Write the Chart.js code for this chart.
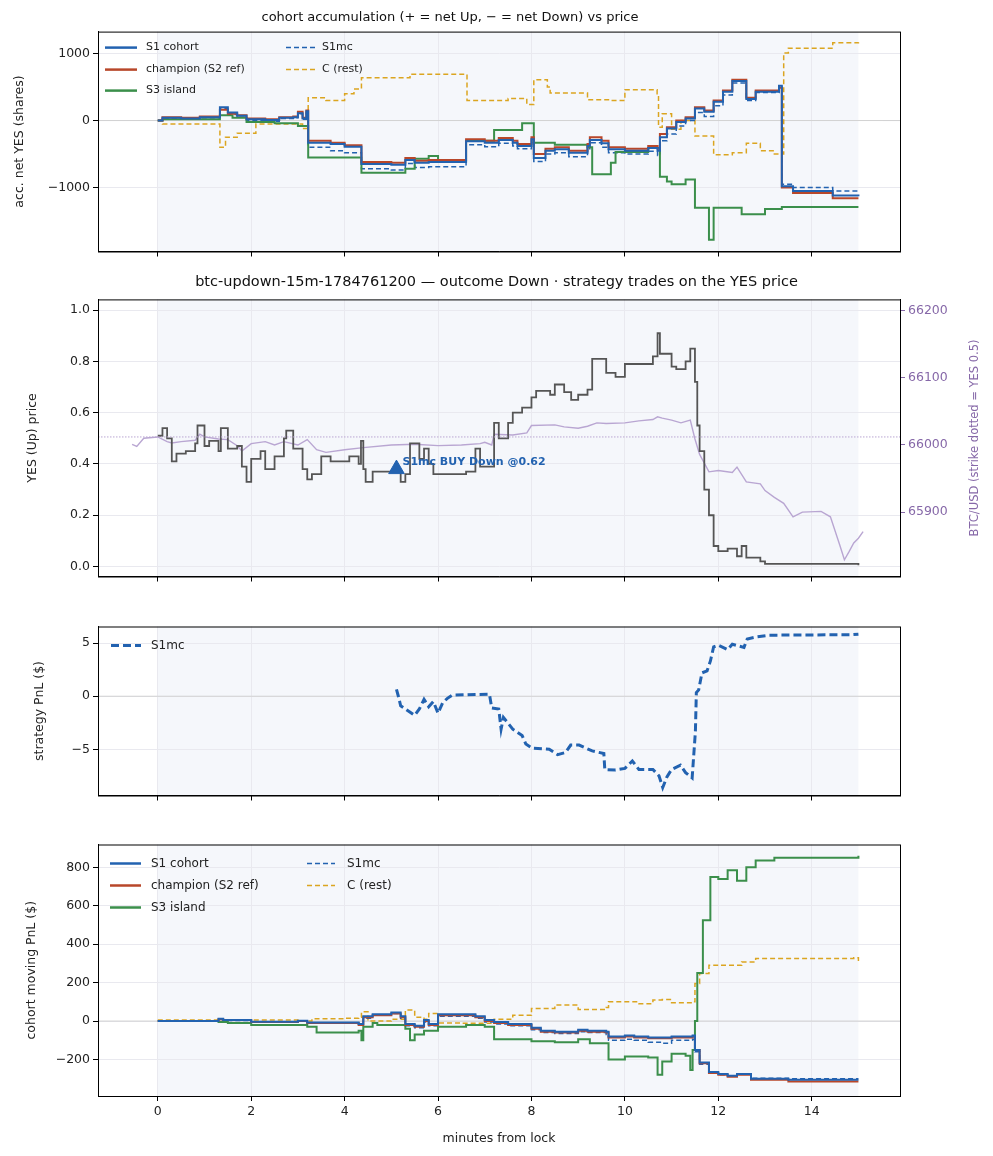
<!DOCTYPE html>
<html>
<head>
<meta charset="utf-8">
<script src="https://cdn.jsdelivr.net/npm/chart.js@4.4.1/dist/chart.umd.min.js"></script>
<style>
  body { margin: 0; background: #fff; }
  canvas { position: absolute; left: 0; }
</style>
</head>
<body>
<canvas id="acc" width="993" height="262" style="top:0"></canvas>
<canvas id="price" width="993" height="325" style="top:262px"></canvas>
<canvas id="pnl" width="993" height="190" style="top:616px"></canvas>
<canvas id="moving" width="993" height="322" style="top:834px"></canvas>
<script>
const X_MIN = -1.28, X_MAX = 15.89 ;
const FONT = 'DejaVu Sans' ;
const BLUE = '#2262b0', RUST = '#b8472a', GREEN = '#3b8f4b', GOLD = '#dba520' ;
const LILAC = '#b9a6d2', PURPLE = '#8668a8', DARK = '#555555' ;

// panel 1: accumulated net YES (shares)
const accT = [0,0.1,0.5,0.9,1.33,1.5,1.7,1.9,2.3,2.6,2.9,3.0,3.1,3.18,3.22,3.7,4.0,4.36,5.0,5.3,5.5,5.8,6.6,7.0,7.3,7.6,7.7,8.0,8.05,8.3,8.5,8.8,9.2,9.25,9.5,9.65,10.0,10.5,10.7,10.75,10.9,11.1,11.3,11.5,11.7,11.9,12.1,12.3,12.6,12.8,13.3,13.36,13.6,14.45,15] ;
const champAcc = [0,50,40,60,160,100,80,30,20,50,60,130,40,150,-300,-330,-370,-620,-630,-560,-600,-590,-280,-300,-260,-300,-350,-250,-500,-420,-400,-450,-350,-250,-300,-400,-420,-380,-420,-200,-100,0,50,200,150,300,450,610,340,450,490,-1000,-1080,-1160,-1160] ;
const s1Acc = [0,40,30,50,200,120,70,20,10,40,50,110,30,140,-330,-350,-390,-650,-660,-590,-630,-620,-310,-330,-290,-330,-380,-280,-560,-450,-430,-480,-380,-290,-340,-430,-450,-410,-450,-250,-120,-20,30,180,130,280,430,590,320,430,520,-980,-1050,-1120,-1130] ;
const s1mcAcc = [0,30,20,40,180,90,50,0,-10,30,40,100,20,120,-400,-450,-480,-720,-740,-640,-700,-690,-360,-390,-340,-380,-420,-330,-610,-500,-480,-540,-420,-330,-400,-480,-500,-460,-520,-300,-200,-80,0,120,60,220,380,560,300,420,510,-950,-1000,-1050,-1050] ;
const s3AccT = [0,0.1,1.33,1.6,1.9,2.5,3.0,3.22,4.36,5.3,5.5,5.8,6.0,6.6,7.2,7.8,8.05,8.5,9.2,9.3,9.7,9.8,10.5,10.75,10.9,11.0,11.3,11.5,11.8,11.9,12.5,13.0,13.36,15] ;
const s3Acc = [0,20,80,40,-20,-40,-80,-550,-780,-720,-570,-530,-600,-300,-140,-40,-330,-360,-400,-800,-630,-470,-410,-840,-910,-950,-880,-1300,-1780,-1300,-1400,-1320,-1290,-1290] ;
const cAccT = [0,0.1,1.33,1.45,1.7,2.1,3.1,3.22,3.6,4.0,4.2,4.36,5.4,6.62,7.5,7.9,8.05,8.34,8.4,9.2,9.7,10.0,10.69,10.72,10.8,11.0,11.2,11.5,11.9,12.3,12.6,12.9,13.2,13.4,13.5,14.45,15] ;
const cAcc = [0,-50,-400,-250,-190,-50,-120,340,300,400,470,640,690,300,330,240,610,500,410,310,300,460,400,-100,100,-130,0,-230,-510,-480,-340,-450,-500,1010,1080,1160,1170] ;

// panel 2: YES price and BTC
const yesT = [0,0.1,0.2,0.3,0.4,0.6,0.8,0.85,1.0,1.1,1.3,1.35,1.5,1.7,1.8,1.9,2.0,2.2,2.3,2.5,2.7,2.75,2.9,3.1,3.2,3.3,3.5,3.7,4.1,4.3,4.35,4.4,4.45,4.6,5.2,5.3,5.4,5.6,5.7,5.8,5.9,6.6,6.8,6.9,7.0,7.2,7.3,7.5,7.6,7.8,8.0,8.1,8.4,8.5,8.7,8.85,9.0,9.2,9.3,9.6,9.8,10.0,10.6,10.7,10.75,11.0,11.1,11.3,11.4,11.5,11.55,11.6,11.7,11.8,11.9,12.0,12.2,12.4,12.5,12.6,12.9,13.0,15] ;
const yesPrice = [0.51,0.54,0.5,0.41,0.44,0.45,0.48,0.55,0.47,0.49,0.45,0.54,0.46,0.47,0.39,0.33,0.42,0.45,0.38,0.43,0.5,0.53,0.46,0.38,0.34,0.36,0.43,0.41,0.43,0.40,0.49,0.38,0.33,0.37,0.33,0.36,0.48,0.42,0.46,0.40,0.36,0.37,0.46,0.39,0.39,0.56,0.50,0.56,0.60,0.62,0.66,0.685,0.67,0.71,0.68,0.65,0.67,0.69,0.81,0.755,0.74,0.79,0.82,0.91,0.83,0.78,0.77,0.80,0.85,0.72,0.55,0.45,0.30,0.20,0.08,0.06,0.07,0.04,0.08,0.035,0.02,0.01,0.005] ;
const btcT = [-0.55,-0.45,-0.3,0,0.2,0.3,0.5,0.8,0.9,1.0,1.3,1.5,1.7,1.8,2.0,2.3,2.5,2.7,3.0,3.2,3.4,3.6,4.0,4.4,5.0,5.5,6.0,6.5,6.9,7.0,7.15,7.2,7.6,7.9,8.0,8.5,8.7,9.0,9.2,9.4,9.6,10.0,10.3,10.6,10.7,10.8,11.0,11.2,11.4,11.5,11.6,11.8,12.0,12.3,12.4,12.6,12.9,13.0,13.2,13.4,13.6,13.8,14.2,14.4,14.6,14.7,14.8,14.9,15.0,15.1] ;
const btcUsd = [66001,65998,66010,66012,66005,66003,66005,66007,66016,66012,66009,66008,65999,65991,66002,66005,66000,66005,66000,66008,65993,65989,65993,65996,66000,66001,65999,66000,66002,66004,66000,66016,66015,66018,66029,66030,66027,66025,66028,66033,66032,66033,66036,66038,66042,66040,66037,66033,66037,66009,65986,65960,65962,65959,65967,65945,65942,65932,65922,65913,65893,65900,65901,65893,65851,65829,65841,65854,65861,65871] ;
const strike = 66012 ;
const trade = { t: 5.11, price: 0.38, label: 'S1mc BUY Down @0.62' } ;

// panel 3: strategy PnL
const pnlT = [5.11,5.15,5.2,5.3,5.5,5.6,5.7,5.8,5.9,6.0,6.1,6.2,6.3,7.1,7.15,7.3,7.35,7.4,7.6,7.8,7.88,8.02,8.38,8.56,8.73,8.84,9.02,9.3,9.55,9.57,9.8,10.0,10.16,10.3,10.6,10.73,10.81,10.9,11.0,11.19,11.3,11.44,11.51,11.53,11.58,11.65,11.76,11.83,11.9,12.0,12.2,12.3,12.55,12.62,12.83,13.08,14.86,15.0] ;
const s1mcPnl = [0.65,0,-0.9,-1.2,-1.8,-1.2,-0.3,-1.0,-0.5,-1.6,-0.6,-0.2,0.1,0.2,-1.1,-1.2,-3.1,-2.0,-3.1,-3.7,-4.5,-4.9,-5.0,-5.5,-5.3,-4.6,-4.6,-5.15,-5.4,-6.9,-6.95,-6.8,-6.1,-6.9,-6.9,-7.5,-8.6,-7.6,-6.9,-6.5,-7.2,-7.7,-3.3,0.35,0.6,2.2,2.4,3.3,4.65,4.8,4.4,4.9,4.6,5.4,5.6,5.75,5.8,5.85] ;

// panel 4: cohort moving PnL
const mvT = [0,1.3,1.4,2.0,3.0,3.2,4.0,4.3,4.4,4.6,5.0,5.2,5.3,5.5,5.7,5.8,6.0,6.6,6.8,7.0,7.2,7.5,8.0,8.2,8.5,9.0,9.2,9.6,9.65,10.0,10.2,10.5,10.8,11.0,11.45,11.5,11.6,11.8,12.0,12.2,12.4,12.7,13.5,15] ;
const champMv = [0,10,5,-5,0,-10,-10,-20,20,30,40,20,-20,-30,0,-20,30,30,20,0,-10,-20,-40,-55,-60,-50,-55,-60,-85,-80,-85,-90,-90,-85,-80,-150,-220,-270,-280,-290,-280,-305,-315,-315] ;
const s1Mv = [0,12,6,-3,2,-8,-8,-15,25,35,45,25,-15,-25,5,-15,35,35,25,5,-5,-15,-35,-50,-55,-45,-50,-55,-80,-75,-80,-85,-85,-80,-75,-150,-215,-265,-275,-285,-275,-300,-305,-305] ;
const s1mcMv = [0,8,3,-5,0,-12,-10,-18,15,30,40,15,-25,-35,-5,-25,25,25,15,-5,-15,-25,-45,-60,-65,-55,-60,-70,-100,-95,-100,-110,-115,-100,-95,-160,-225,-270,-280,-285,-275,-298,-300,-300] ;
const s3MvT = [0,1.3,1.5,2.0,3.2,3.4,4.3,4.36,4.4,4.6,4.7,5.3,5.4,5.5,5.7,6.0,6.6,7.0,7.2,8.0,8.5,9.0,9.25,9.65,10.0,10.5,10.7,10.8,11.0,11.3,11.4,11.45,11.5,11.55,11.67,11.83,12.0,12.2,12.4,12.6,12.8,13.2,15] ;
const s3Mv = [0,-5,-10,-20,-30,-60,-50,-100,-30,-10,-20,-40,-100,-70,-50,-30,-20,-30,-95,-105,-110,-95,-115,-200,-185,-190,-280,-210,-170,-180,-255,-150,0,250,525,750,740,785,730,800,836,850,860] ;
const cMvT = [0,3.0,3.3,4.0,4.3,4.36,4.5,5.0,5.3,5.5,5.7,5.8,6.0,6.5,7.2,7.6,8.0,8.5,9.0,9.6,9.65,10.3,10.6,10.8,11.0,11.45,11.5,11.6,11.8,12.0,12.5,12.8,14.9,15] ;
const cMv = [5,0,12,15,20,48,0,10,57,20,10,40,-10,-12,10,30,66,83,60,70,100,90,110,112,95,100,196,248,291,290,308,326,330,313] ;

Chart.defaults.font.family = FONT ;
Chart.defaults.color = '#222' ;
Chart.defaults.animation = false ;
Chart.defaults.devicePixelRatio = 1 ;

function pts(ts, vs) {
    return ts.map((t, i) => ({ x: t, y: vs[i] })) ;
}

function line(label, ts, vs, color, opts) {
    return Object.assign({
        label: label, data: pts(ts, vs), borderColor: color, backgroundColor: color,
        borderWidth: 2, pointRadius: 0, stepped: true, fill: false
    }, opts || {}) ;
}

function zeroLine() {
    return { data: [{x: X_MIN, y: 0}, {x: X_MAX, y: 0}], borderColor: '#d2d2d2', borderWidth: 1, pointRadius: 0, order: 10 } ;
}

const minus = v => String(v).replace('-', '\u2212') ;

// ticks only on whole multiples of the step, like matplotlib
function stepTicks(step) {
    return function(scale) {
        const out = [] ;
        for (let k = Math.ceil(scale.min / step - 1e-9) ; k * step <= scale.max + 1e-9 ; k++)
            out.push({ value: Math.round(k * step * 1e6) / 1e6 }) ;
        scale.ticks = out ;
    } ;
}

function xScale(height, showLabels) {
    return {
        type: 'linear', min: X_MIN, max: X_MAX,
        ticks: { display: showLabels, font: { size: 12.5 }, color: '#222', padding: 3 },
        afterBuildTicks: stepTicks(2),
        grid: { color: '#e9e9ef', tickColor: '#000', tickLength: 5 },
        border: { color: '#000' },
        title: { display: showLabels, text: 'minutes from lock', font: { size: 12.5 }, padding: { top: 2, bottom: 2 } },
        afterFit: s => { s.height = height ; }
    } ;
}

function yScale(title, min, max, step, titlePad, fmt) {
    return {
        type: 'linear', min: min, max: max,
        ticks: { font: { size: 12.5 }, color: '#222', callback: fmt || (v => minus(v)) },
        afterBuildTicks: stepTicks(step),
        grid: { color: '#e9e9ef', tickColor: '#000', tickLength: 5 },
        border: { color: '#000' },
        title: { display: true, text: title, font: { size: 12.5 }, padding: { top: titlePad, bottom: 4 } },
        afterFit: s => { s.width = 98 ; }
    } ;
}

// pale band for the trading window and the black frame
const windowShade = {
    id: 'windowShade',
    beforeDraw(chart) {
        const { ctx, chartArea: { top, bottom }, scales: { x } } = chart ;
        ctx.save() ;
        ctx.fillStyle = '#f5f7fb' ;
        ctx.fillRect(x.getPixelForValue(0), top, x.getPixelForValue(15) - x.getPixelForValue(0), bottom - top) ;
        ctx.restore() ;
    },
    afterDraw(chart) {
        const { ctx, chartArea: { top, bottom, left, right } } = chart ;
        ctx.save() ;
        ctx.strokeStyle = '#000' ;
        ctx.lineWidth = 1 ;
        ctx.strokeRect(left + 0.5, top + 0.5, right - left, bottom - top) ;
        ctx.restore() ;
    }
} ;

// matplotlib-like legend laid out in columns
function miniLegend(entries, fontSize) {
    return {
        id: 'miniLegend',
        afterDatasetsDraw(chart) {
            const { ctx, chartArea: { top, left } } = chart ;
            ctx.save() ;
            ctx.font = fontSize + 'px ' + FONT ;
            ctx.textBaseline = 'middle' ;
            entries.forEach(e => {
                ctx.strokeStyle = e.color ;
                ctx.lineWidth = e.width || 2.5 ;
                ctx.setLineDash(e.dash || []) ;
                ctx.beginPath() ;
                ctx.moveTo(left + e.x0, top + e.y) ;
                ctx.lineTo(left + e.x1, top + e.y) ;
                ctx.stroke() ;
                ctx.setLineDash([]) ;
                ctx.fillStyle = '#222' ;
                ctx.fillText(e.label, left + e.tx, top + e.y) ;
            }) ;
            ctx.restore() ;
        }
    } ;
}

const DASH = [5, 3] ;

new Chart(document.getElementById('acc'), {
    type: 'line',
    data: { datasets: [
        line('S1 cohort', accT, s1Acc, BLUE),
        line('champion (S2 ref)', accT, champAcc, RUST),
        line('S3 island', s3AccT, s3Acc, GREEN),
        line('S1mc', accT, s1mcAcc, BLUE, { borderWidth: 1.5, borderDash: DASH }),
        line('C (rest)', cAccT, cAcc, GOLD, { borderWidth: 1.5, borderDash: DASH }),
        zeroLine()
    ] },
    options: {
        responsive: false,
        layout: { padding: { top: 2, right: 93 } },
        scales: { x: xScale(8, false), y: yScale('acc. net YES (shares)', -1955, 1328, 1000, 12) },
        plugins: {
            legend: { display: false }, tooltip: { enabled: false },
            title: { display: true, text: 'cohort accumulation (+ = net Up, \u2212 = net Down) vs price', font: { size: 13, weight: 'normal' }, color: '#111', padding: { top: 8, bottom: 6 } }
        }
    },
    plugins: [windowShade, miniLegend([
        { label: 'S1 cohort', color: BLUE, x0: 7, x1: 39, tx: 48, y: 16 },
        { label: 'champion (S2 ref)', color: RUST, x0: 7, x1: 39, tx: 48, y: 38 },
        { label: 'S3 island', color: GREEN, x0: 7, x1: 39, tx: 48, y: 59 },
        { label: 'S1mc', color: BLUE, x0: 188, x1: 219, tx: 224, y: 16, width: 1.5, dash: DASH },
        { label: 'C (rest)', color: GOLD, x0: 188, x1: 219, tx: 224, y: 38, width: 1.5, dash: DASH }
    ], 11)]
}) ;

// trade marker label and the right axis title, read bottom-to-top
const BTC_TITLE = 'BTC/USD (strike dotted = YES 0.5)' ;
const priceExtras = {
    id: 'priceExtras',
    afterDatasetsDraw(chart) {
        const { ctx, chartArea: { top, bottom }, scales: { x, y } } = chart ;
        ctx.save() ;
        ctx.font = 'bold 11px ' + FONT ;
        ctx.fillStyle = BLUE ;
        ctx.textBaseline = 'middle' ;
        ctx.fillText(trade.label, x.getPixelForValue(trade.t) + 6, y.getPixelForValue(trade.price) - 7) ;
        ctx.translate(chart.width - 18, (top + bottom) / 2) ;
        ctx.rotate(-Math.PI / 2) ;
        ctx.font = '11.5px ' + FONT ;
        ctx.fillStyle = PURPLE ;
        ctx.textAlign = 'center' ;
        ctx.fillText(BTC_TITLE, 0, 0) ;
        ctx.restore() ;
    }
} ;

const btcScale = {
    type: 'linear', position: 'right', min: 65804, max: 66217,
    ticks: { font: { size: 12.5 }, color: PURPLE, callback: v => String(v) },
    afterBuildTicks: stepTicks(100),
    grid: { drawOnChartArea: false, tickColor: PURPLE, tickLength: 5 },
    border: { color: '#000' },
    title: { display: false },
    afterFit: s => { s.width = 93 ; }
} ;

new Chart(document.getElementById('price'), {
    type: 'line',
    data: { datasets: [
        { data: [{x: X_MIN, y: strike}, {x: X_MAX, y: strike}], yAxisID: 'btc', borderColor: LILAC, borderWidth: 1, borderDash: [1.5, 1.5], pointRadius: 0 },
        { label: 'BTC/USD', data: pts(btcT, btcUsd), yAxisID: 'btc', borderColor: LILAC, borderWidth: 1.4, pointRadius: 0, order: 3 },
        line('YES', yesT, yesPrice, DARK, { borderWidth: 1.8, order: 2 }),
        { type: 'scatter', data: [{x: trade.t, y: trade.price}], pointStyle: 'triangle', pointRadius: 9, backgroundColor: BLUE, borderColor: BLUE, order: 1 }
    ] },
    options: {
        responsive: false,
        scales: {
            x: xScale(8, false),
            y: yScale('YES (Up) price', -0.039, 1.042, 0.2, 25, v => v.toFixed(1)),
            btc: btcScale
        },
        plugins: {
            legend: { display: false }, tooltip: { enabled: false },
            title: { display: true, text: 'btc-updown-15m-1784761200 \u2014 outcome Down \u00b7 strategy trades on the YES price', font: { size: 14.5, weight: 'normal' }, color: '#111', padding: { top: 12, bottom: 8 } }
        }
    },
    plugins: [windowShade, priceExtras]
}) ;

new Chart(document.getElementById('pnl'), {
    type: 'line',
    data: { datasets: [
        line('S1mc', pnlT, s1mcPnl, BLUE, { borderWidth: 3, borderDash: [8, 4], stepped: false }),
        zeroLine()
    ] },
    options: {
        responsive: false,
        layout: { padding: { top: 10, right: 93 } },
        scales: { x: xScale(8, false), y: yScale('strategy PnL ($)', -9.35, 6.57, 5, 32) },
        plugins: { legend: { display: false }, tooltip: { enabled: false } }
    },
    plugins: [windowShade, miniLegend([
        { label: 'S1mc', color: BLUE, x0: 13, x1: 43, tx: 53, y: 19, width: 3, dash: [8, 4] }
    ], 12)]
}) ;

new Chart(document.getElementById('moving'), {
    type: 'line',
    data: { datasets: [
        line('S1 cohort', mvT, s1Mv, BLUE),
        line('champion (S2 ref)', mvT, champMv, RUST),
        line('S3 island', s3MvT, s3Mv, GREEN),
        line('S1mc', mvT, s1mcMv, BLUE, { borderWidth: 1.5, borderDash: DASH }),
        line('C (rest)', cMvT, cMv, GOLD, { borderWidth: 1.5, borderDash: DASH }),
        zeroLine()
    ] },
    options: {
        responsive: false,
        layout: { padding: { top: 10, right: 93, bottom: 8 } },
        scales: { x: xScale(52, true), y: yScale('cohort moving PnL ($)', -390, 919, 200, 24) },
        plugins: { legend: { display: false }, tooltip: { enabled: false } }
    },
    plugins: [windowShade, miniLegend([
        { label: 'S1 cohort', color: BLUE, x0: 12, x1: 43, tx: 53, y: 19 },
        { label: 'champion (S2 ref)', color: RUST, x0: 12, x1: 43, tx: 53, y: 41 },
        { label: 'S3 island', color: GREEN, x0: 12, x1: 43, tx: 53, y: 63 },
        { label: 'S1mc', color: BLUE, x0: 209, x1: 237, tx: 249, y: 19, width: 1.5, dash: DASH },
        { label: 'C (rest)', color: GOLD, x0: 209, x1: 237, tx: 249, y: 41, width: 1.5, dash: DASH }
    ], 12)]
}) ;
</script>
</body>
</html>
